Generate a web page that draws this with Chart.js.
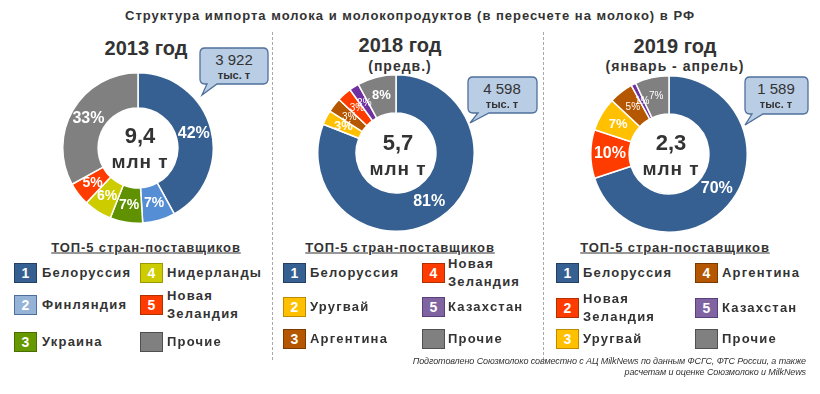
<!DOCTYPE html>
<html>
<head>
<meta charset="utf-8">
<script src="https://cdn.jsdelivr.net/npm/chart.js@4.4.1/dist/chart.umd.min.js"></script>
<style>
body{margin:0;background:#fff;font-family:"Liberation Sans",Arial,sans-serif;color:#333}
#wrap{position:relative;width:820px;height:394px;overflow:hidden;background:#fff}
.t{position:absolute;white-space:nowrap;font-weight:bold;transform:translate(-50%,-50%);text-align:center}
.sep{position:absolute;top:32px;height:328px;border-left:1px dashed #aaa}
canvas{position:absolute}
.box{position:absolute;width:21px;height:18px;border:1px solid;color:#fff;font:bold 14px "Liberation Sans",Arial,sans-serif;text-align:center;line-height:18px}
.lt{position:absolute;font:bold 13px "Liberation Sans",Arial,sans-serif;letter-spacing:1.2px;line-height:18px;transform:translateY(-50%);white-space:nowrap;color:#333}
.foot{position:absolute;right:14px;font:italic 9px "Liberation Sans",Arial,sans-serif;text-align:right;color:#333;letter-spacing:-0.1px}
svg{position:absolute;left:0;top:0}
</style>
</head>
<body>
<div id="wrap">
<svg width="820" height="394">
  <path d="M205,48 H263 Q268,48 268,53 V79 Q268,84 263,84 H217 L202,95 L207,84 H205 Q200,84 200,79 V53 Q200,48 205,48 Z" fill="#b9cde5" stroke="#4f6f9a" stroke-width="1.3"/>
  <path d="M473,77 H532 Q537,77 537,82 V108 Q537,113 532,113 H489 L470,123 L478,113 H473 Q468,113 468,108 V82 Q468,77 473,77 Z" fill="#b9cde5" stroke="#4f6f9a" stroke-width="1.3"/>
  <path d="M750,77 H803 Q808,77 808,82 V109 Q808,114 803,114 H763 L745,125 L752,114 H750 Q745,114 745,109 V82 Q745,77 750,77 Z" fill="#b9cde5" stroke="#4f6f9a" stroke-width="1.3"/>
</svg>
<div class="sep" style="left:272px"></div>
<div class="sep" style="left:543px"></div>
<div class="t" style="left:410px;top:15px;font-size:13px;letter-spacing:1px">Структура импорта молока и молокопродуктов (в пересчете на молоко) в РФ</div>
<canvas id="c0" width="152" height="152"></canvas>
<canvas id="c1" width="158" height="158"></canvas>
<canvas id="c2" width="158" height="158"></canvas>
<div id="txt"></div>
<div class="foot" style="top:356px">Подготовлено Союзмолоко совместно с АЦ MilkNews по данным ФСГС, ФТС России, а также</div>
<div class="foot" style="top:367px">расчетам и оценке Союзмолоко и MilkNews</div>
</div>
<script>
// данные
var years = ['2013 год', '2018 год', '2019 год'];
var subtitles = ['', '(предв.)', '(январь - апрель)'];
var totals = ['9,4', '5,7', '2,3'];
var belarusVolume = ['3 922', '4 598', '1 589'];

var countries2013 = ['Белоруссия', 'Финляндия', 'Украина', 'Нидерланды', 'Новая Зеландия', 'Прочие'];
var shares2013 = [42, 7, 7, 6, 5, 33];

var countries2018 = ['Белоруссия', 'Уругвай', 'Аргентина', 'Новая Зеландия', 'Казахстан', 'Прочие'];
var shares2018 = [81, 3, 3, 3, 2, 8];

var countries2019 = ['Белоруссия', 'Новая Зеландия', 'Уругвай', 'Аргентина', 'Казахстан', 'Прочие'];
var shares2019 = [70, 10, 7, 5, 1, 7];

var colorOf = {
	'Белоруссия': '#376092', 'Финляндия': '#558ed5', 'Украина': '#5f9100',
	'Нидерланды': '#cccc00', 'Новая Зеландия': '#ff3c00', 'Прочие': '#808080',
	'Уругвай': '#ffc000', 'Аргентина': '#b45700', 'Казахстан': '#7030a0'
};
var legendFill = {
	'Белоруссия': ['#376092', '#243f60'], 'Финляндия': ['#95b3d7', '#4f6f9a'], 'Украина': ['#669900', '#4a6f00'],
	'Нидерланды': ['#cccc00', '#9a9a00'], 'Новая Зеландия': ['#ff3c00', '#b03000'], 'Прочие': ['#808080', '#505050'],
	'Уругвай': ['#ffc000', '#c08a00'], 'Аргентина': ['#b45700', '#7a3a00'], 'Казахстан': ['#8064a2', '#5a3f7a']
};

var panels = [
	{names: countries2013, shares: shares2013, cx: 138, cy: 148, r: 75, cut: '53%',
	 yT: 48, ySub: 0, yC: 148, legendX: [14, 140], textX: [42, 167], rows: [[273, 305, 342], [273, 305, 342]], titleX: 146},
	{names: countries2018, shares: shares2018, cx: 396, cy: 153, r: 78, cut: '51%',
	 yT: 45, ySub: 66, yC: 155, legendX: [283, 422], textX: [310, 448], rows: [[273, 307, 339], [273, 307, 339]], titleX: 400},
	{names: countries2019, shares: shares2019, cx: 669, cy: 154, r: 78, cut: '51%',
	 yT: 46, ySub: 66, yC: 155, legendX: [556, 695], textX: [583, 722], rows: [[273, 308, 339], [273, 308, 339]], titleX: 675}
];

var pctLabels = {
	id: 'pctLabels',
	afterDatasetsDraw: function(chart) {
		var ctx = chart.ctx;
		var meta = chart.getDatasetMeta(0);
		var vals = chart.data.datasets[0].data;
		var big = chart.canvas.id == 'c0';
		ctx.save();
		ctx.textAlign = 'center';
		ctx.textBaseline = 'middle';
		ctx.fillStyle = '#fff';
		meta.data.forEach(function(arc, i) {
			var p = arc.tooltipPosition();
			var v = vals[i];
			var last = i == vals.length - 1;
			if (v >= 10) ctx.font = 'bold 16px "Liberation Sans", Arial, sans-serif';
			else if (big && v >= 5) ctx.font = 'bold 14px "Liberation Sans", Arial, sans-serif';
			else if (i == 1 || (v >= 7 && !(last && chart.canvas.id == 'c2'))) ctx.font = 'bold 13px "Liberation Sans", Arial, sans-serif';
			else ctx.font = '10px "Liberation Sans", Arial, sans-serif';
			ctx.fillText(v + '%', p.x, p.y);
		});
		ctx.restore();
	}
};

var html = '';
panels.forEach(function(p, k) {
	var cv = document.getElementById('c' + k);
	var half = cv.width / 2;
	cv.style.left = (p.cx - half) + 'px';
	cv.style.top = (p.cy - half) + 'px';

	new Chart(cv, {
		type: 'doughnut',
		data: {
			labels: p.names,
			datasets: [{
				data: p.shares,
				backgroundColor: p.names.map(function(n) { return colorOf[n]; }),
				borderColor: '#fff',
				borderWidth: 1.5,
				hoverOffset: 0
			}]
		},
		options: {
			responsive: false,
			animation: false,
			devicePixelRatio: 1,
			cutout: p.cut,
			plugins: {legend: {display: false}, tooltip: {enabled: false}}
		},
		plugins: [pctLabels]
	});

	// подписи
	html += '<div class="t" style="left:' + p.titleX + 'px;top:' + p.yT + 'px;font-size:20px">' + years[k] + '</div>';
	if (subtitles[k]) html += '<div class="t" style="left:' + p.titleX + 'px;top:' + p.ySub + 'px;font-size:14px;letter-spacing:1px">' + subtitles[k] + '</div>';
	html += '<div class="t" style="left:' + (p.cx + 2) + 'px;top:' + (p.yC - 12) + 'px;font-size:22px">' + totals[k] + '</div>';
	html += '<div class="t" style="left:' + (p.cx + 2) + 'px;top:' + (p.yC + 14) + 'px;font-size:19px;letter-spacing:1px">млн т</div>';

	// выноска
	var bx = [234, 502, 776][k], by = [66, 95, 95][k];
	html += '<div class="t" style="left:' + bx + 'px;top:' + (by - 7) + 'px;font-size:15px;font-weight:normal">' + belarusVolume[k] + '</div>';
	html += '<div class="t" style="left:' + bx + 'px;top:' + (by + 9) + 'px;font-size:11px">тыс. т</div>';

	// легенда
	html += '<div class="t" style="left:' + (p.titleX) + 'px;top:247px;font-size:13px;letter-spacing:0.9px;text-decoration:underline">ТОП-5 стран-поставщиков</div>';
	p.names.forEach(function(n, i) {
		var col = i < 3 ? 0 : 1, row = i % 3;
		var y = p.rows[col][row];
		var f = legendFill[n];
		var num = n == 'Прочие' ? '' : (i + 1);
		html += '<div class="box" style="left:' + p.legendX[col] + 'px;top:' + (y - 10) + 'px;background:' + f[0] + ';border-color:' + f[1] + '">' + num + '</div>';
		html += '<div class="lt" style="left:' + p.textX[col] + 'px;top:' + y + 'px">' + n.replace('Новая ', 'Новая<br>') + '</div>';
	});
});
document.getElementById('txt').innerHTML = html;
</script>
</body>
</html>
